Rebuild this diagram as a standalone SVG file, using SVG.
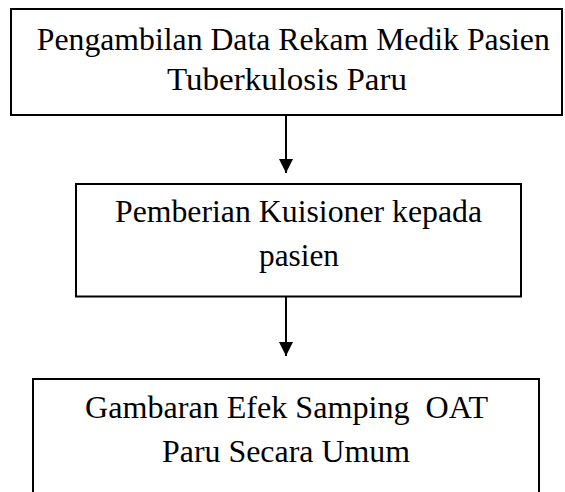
<svg xmlns="http://www.w3.org/2000/svg" width="565" height="492" viewBox="0 0 565 492">
<style>
.box{fill:#fff;stroke:#000;stroke-width:2}
.t{font-family:"Liberation Serif","Times New Roman",serif;font-size:31px;fill:#000;text-anchor:middle;white-space:pre}
.conn{stroke:#000;stroke-width:2;fill:none}
</style>
<defs>
<marker id="ah" markerUnits="userSpaceOnUse" markerWidth="14" markerHeight="14" viewBox="0 0 14 14" refX="14" refY="7" orient="auto">
<path d="M0,0 L14,7 L0,14 Z" fill="#000"/>
</marker>
</defs>
<rect width="565" height="492" fill="#fff"/>
<g id="node1">
<rect class="box" x="11" y="9" width="551" height="106"/>
<text class="t" x="293.3" y="50" textLength="513" lengthAdjust="spacingAndGlyphs">Pengambilan Data Rekam Medik Pasien</text>
<text class="t" x="287" y="90" textLength="240" lengthAdjust="spacingAndGlyphs">Tuberkulosis Paru</text>
</g>
<g id="node2">
<rect class="box" x="76" y="184" width="445" height="112.5"/>
<text class="t" x="298.5" y="222" textLength="367" lengthAdjust="spacingAndGlyphs">Pemberian Kuisioner kepada</text>
<text class="t" x="299" y="266" textLength="80" lengthAdjust="spacingAndGlyphs">pasien</text>
</g>
<g id="node3">
<rect class="box" x="33" y="379" width="506" height="130"/>
<text class="t" x="286.5" y="418" textLength="403" lengthAdjust="spacingAndGlyphs" xml:space="preserve">Gambaran Efek Samping  OAT</text>
<text class="t" x="286" y="461.5" textLength="248" lengthAdjust="spacingAndGlyphs">Paru Secara Umum</text>
</g>
<g id="connectors">
<line class="conn" x1="286" y1="115" x2="286" y2="173" marker-end="url(#ah)"/>
<line class="conn" x1="286" y1="296.5" x2="286" y2="356" marker-end="url(#ah)"/>
</g>
</svg>
